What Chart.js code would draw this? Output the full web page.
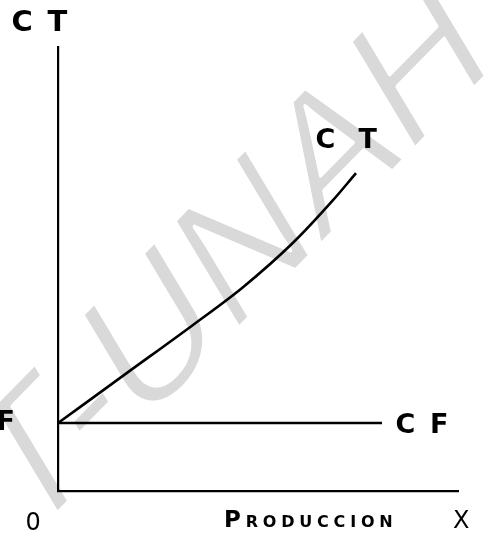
<!DOCTYPE html>
<html>
<head>
<meta charset="utf-8">
<script src="https://cdn.jsdelivr.net/npm/chart.js@4.4.1/dist/chart.umd.min.js"></script>
<style>
  html, body { margin: 0; padding: 0; background: #fff; }
  #wrap { width: 484px; height: 534px; }
</style>
</head>
<body>
<div id="wrap"><canvas id="c" width="484" height="534"></canvas></div>
<script>
// ---- data (arbitrary units: production on X, cost on Y) ----
const ctX = [0, 17.25, 33.75, 46.25, 58.75, 68.75, 74.5];
const ctY = [15.3, 26.6, 37.4, 45.9, 55.9, 65.5, 71.6];
const cfX = [0, 81];
const cfY = [15.3, 15.3];
const labels = { yAxis: ['C', 'T'], ct: ['C', 'T'], cf: ['C', 'F'], fixed: 'F', origin: '0', xName: 'Produccion', xAxis: 'X' };
const watermark = 'T-UNAH';

const ctData = ctX.map((x, i) => ({ x, y: ctY[i] }));
const cfData = cfX.map((x, i) => ({ x, y: cfY[i] }));

function drawSpaced(ctx, chars, fonts, x, y, spacing) {
  let cx = x;
  chars.forEach((ch, i) => {
    ctx.font = fonts[i];
    ctx.fillText(ch, cx, y);
    cx += ctx.measureText(ch).width + spacing;
  });
}

const decor = {
  id: 'decor',
  beforeDraw(chart) {
    const ctx = chart.ctx;
    ctx.save();
    ctx.fillStyle = '#fff';
    ctx.fillRect(0, 0, chart.width, chart.height);
    // watermark
    ctx.setTransform(0.700, -0.714, 0.515, 0.857, 24.4, 546.4);
    ctx.font = '181px "Liberation Sans", Arial, sans-serif';
    ctx.textBaseline = 'alphabetic';
    ctx.textAlign = 'left';
    ctx.fillStyle = 'rgb(217,217,217)';
    ctx.fillText(watermark, 0, 0);
    ctx.strokeStyle = '#fff';
    ctx.lineWidth = 3.5;
    ctx.lineJoin = 'round';
    ctx.strokeText(watermark, 0, 0);
    ctx.restore();
  },
  afterDraw(chart) {
    const ctx = chart.ctx;
    ctx.save();
    ctx.fillStyle = '#000';
    ctx.textBaseline = 'alphabetic';
    ctx.textAlign = 'left';
    const bold = (s) => 'bold ' + s + 'px "DejaVu Sans", sans-serif';
    // Y axis name
    ctx.font = bold(29);
    ctx.fillText(labels.yAxis[0], 11.5, 31);
    ctx.fillText(labels.yAxis[1], 47.5, 31);
    // CT curve label
    ctx.font = bold(27);
    ctx.fillText(labels.ct[0], 315.5, 148);
    ctx.fillText(labels.ct[1], 358.5, 148);
    // CF line label
    ctx.fillText(labels.cf[0], 395.5, 433);
    ctx.fillText(labels.cf[1], 430, 433);
    // F at left
    ctx.textAlign = 'right';
    ctx.fillText(labels.fixed, 15, 430);
    ctx.textAlign = 'left';
    // origin
    ctx.font = '24px "DejaVu Sans", sans-serif';
    ctx.fillText(labels.origin, 25.5, 530);
    // X
    ctx.fillText(labels.xAxis, 453, 528);
    // PRODUCCION small caps
    const up = labels.xName.toUpperCase().split('');
    const fonts = up.map((c, i) => i === 0 ? bold(23) : bold(16));
    drawSpaced(ctx, up, fonts, 224, 527, 4.8);
    ctx.restore();
  }
};

new Chart(document.getElementById('c'), {
  type: 'line',
  data: {
    datasets: [
      { label: 'CT', data: ctData, borderColor: '#000', borderWidth: 2.6, pointRadius: 0, cubicInterpolationMode: 'monotone', fill: false },
      { label: 'CF', data: cfData, borderColor: '#000', borderWidth: 2.4, pointRadius: 0, tension: 0, fill: false }
    ]
  },
  options: {
    responsive: false,
    animation: false,
    events: [],
    layout: { padding: { left: 58, right: 26, top: 47, bottom: 43 } },
    plugins: { legend: { display: false }, tooltip: { enabled: false } },
    scales: {
      x: {
        type: 'linear', min: 0, max: 100,
        grid: { display: false, drawTicks: false },
        ticks: { display: false },
        border: { display: true, color: '#000', width: 2.2 }
      },
      y: {
        type: 'linear', min: 0, max: 100,
        grid: { display: false, drawTicks: false },
        ticks: { display: false },
        border: { display: true, color: '#000', width: 2.2 }
      }
    }
  },
  plugins: [decor]
});
</script>
</body>
</html>
